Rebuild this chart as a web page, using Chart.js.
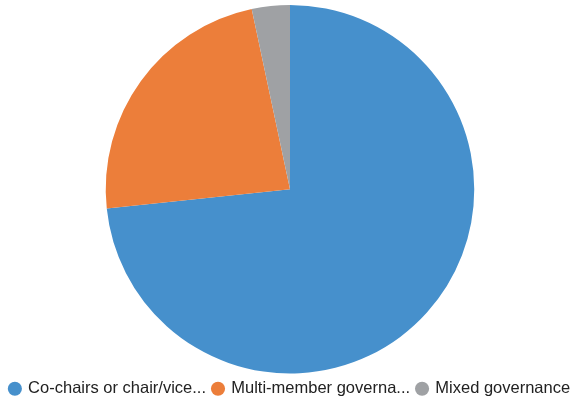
<!DOCTYPE html>
<html>
<head>
<meta charset="utf-8">
<script src="https://cdn.jsdelivr.net/npm/chart.js@4/dist/chart.umd.min.js"></script>
<style>
  html, body { margin: 0; padding: 0; background: #fff; }
  #wrap { width: 586px; height: 401px; }
</style>
</head>
<body>
<div id="wrap"><canvas id="pie"></canvas></div>
<script>
const categories = ['Co-chairs or chair/vice...', 'Multi-member governa...', 'Mixed governance'];
const counts = [22, 7, 1];
const colors = ['rgb(70,144,204)', 'rgb(236,126,58)', 'rgb(159,161,164)'];

new Chart(document.getElementById('pie'), {
  type: 'pie',
  data: {
    labels: categories,
    datasets: [{
      data: counts,
      backgroundColor: colors,
      borderWidth: 0
    }]
  },
  options: {
    responsive: true,
    maintainAspectRatio: false,
    animation: false,
    layout: { padding: { top: 5, right: 6, bottom: -6 } },
    plugins: {
      tooltip: { enabled: false },
      legend: {
        position: 'bottom',
        labels: {
          usePointStyle: true,
          pointStyle: 'circle',
          boxWidth: 10,
          boxHeight: 10,
          padding: 7,
          color: '#222',
          font: { family: 'Liberation Sans, Arial, sans-serif', size: 16.5 }
        }
      }
    }
  }
});
</script>
</body>
</html>
